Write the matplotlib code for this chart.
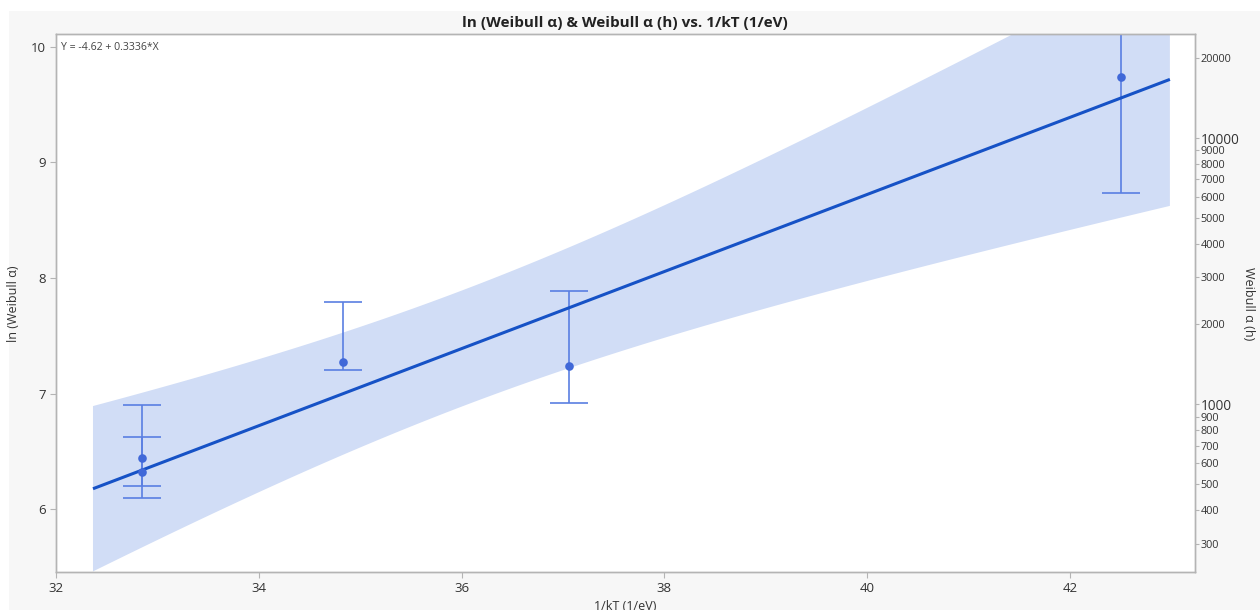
import numpy as np
import matplotlib
matplotlib.use("Agg")
import matplotlib.pyplot as plt
from matplotlib.patches import Rectangle

plt.rcParams["font.family"] = ["Open Sans", "DejaVu Sans"]

# Per-condition Weibull scale estimates on the ln scale, with interval limits
inv_kt = [32.85, 32.85, 34.83, 37.06, 42.50]
ln_alpha = [6.441, 6.323, 7.277, 7.240, 9.737]
ln_alpha_lo = [6.200, 6.095, 7.203, 6.920, 8.734]
ln_alpha_hi = [6.900, 6.628, 7.790, 7.891, 10.750]

# Fitted Arrhenius line: ln(alpha) = intercept + slope * (1/kT)
intercept = -4.62
slope = 0.3336
t_crit = 3.182  # two-sided 95% t quantile with n - 2 = 3 df

alpha_ticks = [300, 400, 500, 600, 700, 800, 900, 1000,
               2000, 3000, 4000, 5000, 6000, 7000, 8000, 9000, 10000, 20000]
big_ticks = {1000, 10000}

x_lim = (32.0, 43.23)
y_lim = (5.455, 10.109)

blue_line = "#1652c6"
blue_pts = "#4068d8"
blue_err = "#5a7fe2"
band_col = "#d1ddf6"
spine_col = "#b4b4b4"
text_col = "#333333"

fig = plt.figure(figsize=(12.6, 6.1), dpi=100, facecolor="white")
fig.patches.append(Rectangle((9 / 1260, 0), 1, (610 - 11) / 610,
                             transform=fig.transFigure, facecolor="#f7f7f7",
                             edgecolor="none", zorder=-10))

ax = fig.add_axes([55.7 / 1260, (610 - 572.3) / 610,
                   (1195 - 55.7) / 1260, (572.3 - 34.3) / 610])
ax.set_facecolor("white")

# Regression line and 95% confidence band for the mean
x_arr = np.array(inv_kt)
y_arr = np.array(ln_alpha)
n = len(x_arr)
x_bar = x_arr.mean()
sxx = np.sum((x_arr - x_bar) ** 2)
resid = y_arr - (intercept + slope * x_arr)
s = np.sqrt(np.sum(resid ** 2) / (n - 2))
span = x_arr.max() - x_arr.min()
xg = np.linspace(x_arr.min() - 0.05 * span, x_arr.max() + 0.05 * span, 200)
yg = intercept + slope * xg
half = t_crit * s * np.sqrt(1.0 / n + (xg - x_bar) ** 2 / sxx)
ax.fill_between(xg, yg - half, yg + half, color=band_col, lw=0, zorder=1)
ax.plot(xg, yg, color=blue_line, lw=2.2, zorder=4, solid_capstyle="butt")

# Estimates with interval bars
lo_err = np.array(ln_alpha) - np.array(ln_alpha_lo)
hi_err = np.array(ln_alpha_hi) - np.array(ln_alpha)
ax.errorbar(inv_kt, ln_alpha, yerr=[lo_err, hi_err], fmt="none",
            ecolor=blue_err, elinewidth=1.2, capsize=13.7, capthick=1.2,
            zorder=3)
ax.plot(inv_kt, ln_alpha, "o", color=blue_pts, ms=6.2, mec="none", zorder=5)

ax.set_xlim(*x_lim)
ax.set_ylim(*y_lim)
ax.set_xticks([32, 34, 36, 38, 40, 42])
ax.set_yticks([6, 7, 8, 9, 10])
ax.tick_params(axis="both", direction="out", length=4, width=0.8,
               color=spine_col, labelsize=9.5, labelcolor=text_col, pad=3)
for sp in ax.spines.values():
    sp.set_color(spine_col)
    sp.set_linewidth(1.0)

ax.text(0.005, 0.986, "Y = -4.62 + 0.3336*X", transform=ax.transAxes,
        ha="left", va="top", fontsize=7.6, color="#444444")

ax.set_title("ln (Weibull α) & Weibull α (h) vs. 1/kT (1/eV)",
             fontsize=11, fontweight="bold", color="#222222", pad=5)
ax.set_ylabel("ln (Weibull α)", fontsize=9, color=text_col)
ax.yaxis.set_label_coords(-0.031, 0.5)

fig.text(625 / 1260, (610 - 606) / 610, "1/kT (1/eV)", ha="center",
         va="center", fontsize=9, color=text_col)

# Secondary axis in hours on a log scale
ax2 = ax.twinx()
ax2.set_yscale("log")
ax2.set_ylim(np.exp(y_lim[0]), np.exp(y_lim[1]))
ax2.yaxis.set_minor_locator(matplotlib.ticker.NullLocator())
ax2.set_yticks(alpha_ticks)
ax2.set_yticklabels([str(v) for v in alpha_ticks])
ax2.tick_params(axis="y", direction="out", length=3, width=0.8,
                color=spine_col, labelsize=7.8, labelcolor=text_col, pad=1)
for lab, v in zip(ax2.get_yticklabels(), alpha_ticks):
    if v in big_ticks:
        lab.set_fontsize(9.8)
for sp in ax2.spines.values():
    sp.set_color(spine_col)
    sp.set_linewidth(1.0)
ax2.set_ylabel("Weibull α (h)", fontsize=9, color=text_col, rotation=270,
               va="center")
ax2.yaxis.set_label_coords(1.047, 0.5)

fig.savefig("out.png", dpi=100, facecolor=fig.get_facecolor())
